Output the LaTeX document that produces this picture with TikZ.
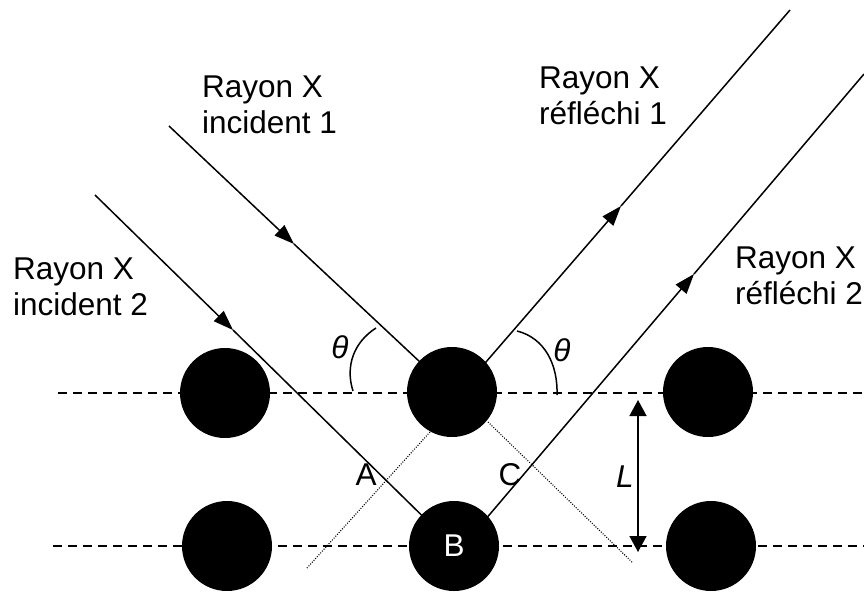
\documentclass[tikz,border=0pt]{standalone}
\usepackage{fontspec}
\setmainfont{Liberation Sans}
\usetikzlibrary{arrows.meta}
\begin{document}
\begin{tikzpicture}[x=1pt,y=-1pt,
  ray/.style={line width=1.5pt},
  tipped/.style={ray,-{Triangle[length=20pt,width=14pt]}},
  lattice/.style={line width=1.4pt, dash pattern=on 9pt off 6pt},
  perp/.style={line width=1.1pt, dash pattern=on 1pt off 1.5pt},
  angarc/.style={line width=1.5pt},
  atom/.style={circle, fill=black, minimum size=90pt, inner sep=0pt},
  lbl/.style={font=\fontsize{31.5}{36}\selectfont, align=left, anchor=north west, inner sep=0pt},
  sym/.style={font=\fontsize{31.5}{36}\selectfont, inner sep=0pt},
  ]
\useasboundingbox (0,0) rectangle (864,592);

% lattice lines
\coordinate (d1a) at (58,393);  \coordinate (d1b) at (864,393);
\coordinate (d2a) at (53,546);  \coordinate (d2b) at (864,546);
\draw[lattice] (d1a) -- (d1b);
\draw[lattice] (d2a) -- (d2b);

% ray coordinates
\coordinate (i1s) at (169,126); \coordinate (i1m) at (294,244); \coordinate (i1e) at (452,392);
\coordinate (i2s) at (95,195);  \coordinate (i2m) at (233,330); \coordinate (i2e) at (454,547);
\coordinate (r1s) at (460,392); \coordinate (r1m) at (621,206); \coordinate (r1e) at (790,10);
\coordinate (r2s) at (462,547); \coordinate (r2m) at (694,274); \coordinate (r2e) at (864,74);

\draw[tipped] (i1s) -- (i1m);
\draw[ray] (i1m) -- (i1e);
\draw[tipped] (i2s) -- (i2m);
\draw[ray] (i2m) -- (i2e);
\draw[tipped] (r1s) -- (r1m);
\draw[ray] (r1m) -- (r1e);
\draw[tipped] (r2s) -- (r2m);
\draw[ray] (r2m) -- (r2e);

% dotted perpendiculars
\coordinate (p1a) at (430,432); \coordinate (p1b) at (307,568);
\coordinate (p2a) at (488,422); \coordinate (p2b) at (633,563);
\draw[perp] (p1a) -- (p1b);
\draw[perp] (p2a) -- (p2b);

% angle arcs
\coordinate (a1s) at (353,391); \coordinate (a1e) at (376,328);
\coordinate (a2s) at (517,331); \coordinate (a2e) at (557,395);
\draw[angarc] (a1s) .. controls (345,366) and (354,342) .. (a1e);
\draw[angarc] (a2s) .. controls (545,338) and (558,365) .. (a2e);

% atoms
\node[atom] (TL) at (225,393) {};
\node[atom] (TM) at (452,392) {};
\node[atom] (TR) at (708,392) {};
\node[atom] (BL) at (227,546) {};
\node[atom, text=white, font=\fontsize{31.5}{36}\selectfont] (B) at (454,546) {B};
\node[atom] (BR) at (711,546) {};

% distance L
\coordinate (Lt) at (638,400); \coordinate (Lb) at (638,552);
\draw[ray,{Triangle[length=16pt,width=17pt]}-{Triangle[length=16pt,width=17pt]}] (Lt) -- (Lb);

% labels
\node[lbl] (t1) at (202,76) {Rayon X\\incident 1};
\node[lbl] (t2) at (13,258) {Rayon X\\incident 2};
\node[lbl] (t3) at (539,67) {Rayon X\\réfléchi 1};
\node[lbl] (t4) at (735,247) {Rayon X\\réfléchi 2};
\node[sym] (th1) at (340,347) {\itshape θ};
\node[sym] (th2) at (562,350) {\itshape θ};
\node[sym] (A) at (366,475) {A};
\node[sym] (C) at (510,475) {C};
\node[sym] (L) at (625,477) {\itshape L};
\end{tikzpicture}
\end{document}
